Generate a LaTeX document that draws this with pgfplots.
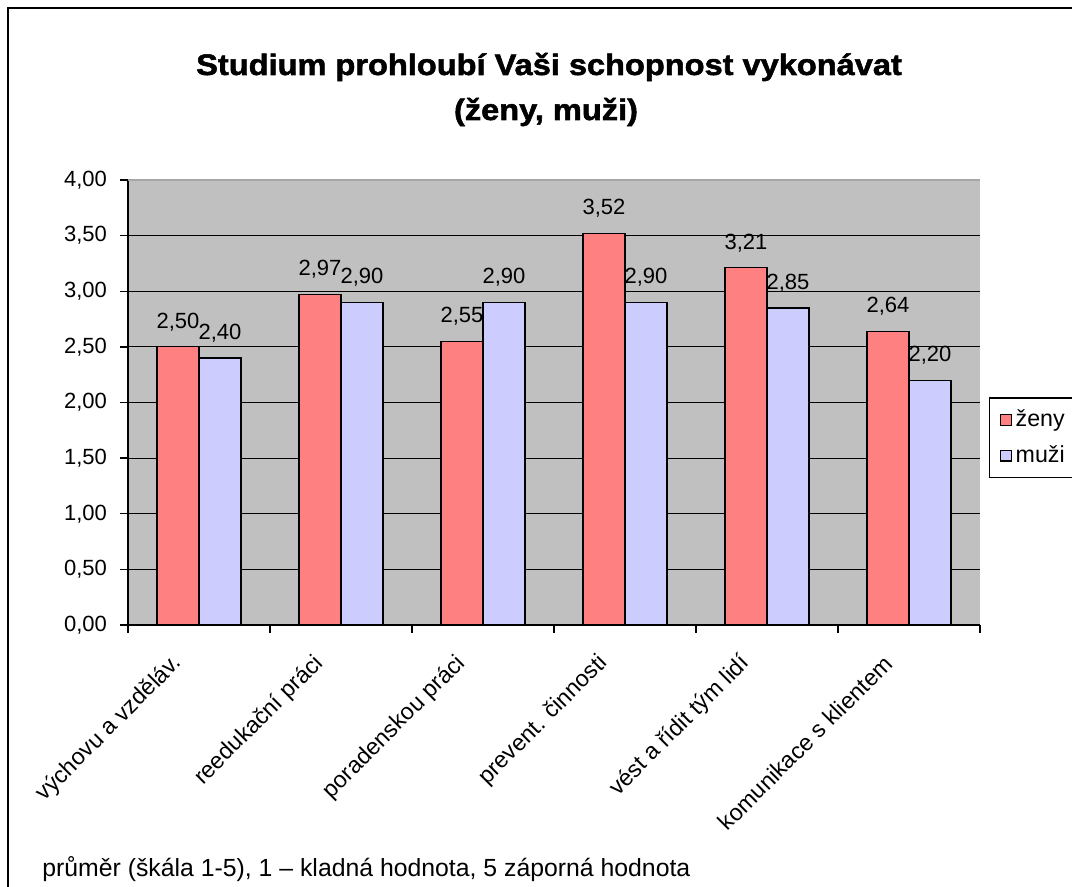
\documentclass[border=0pt]{standalone}
\usepackage{fontspec}
\setmainfont{Liberation Sans}
\newfontfamily\titlefont{Liberation Sans Bold}[FakeBold=1.8, FakeStretch=1.1]
\usepackage{pgfplots}
\pgfplotsset{compat=1.18}
\definecolor{zeny}{HTML}{FF8080}
\definecolor{muzi}{HTML}{CCCCFF}
\definecolor{plotbg}{HTML}{C0C0C0}

% values: mean answer on a 1-5 scale
\pgfplotstableread{
x zeny muzi
0 2.50 2.40
1 2.97 2.90
2 2.55 2.90
3 3.52 2.90
4 3.21 2.85
5 2.64 2.20
}\scores

\pgfplotsset{
  ybar legend/.style={
    legend image code/.code={\draw[##1, line width=0.6pt, draw=black] (0pt,-2.7pt) rectangle (5.4pt,2.7pt);}},
}

\begin{document}
\begin{tikzpicture}
\useasboundingbox (0,0) rectangle (536pt,443.5pt);
\begin{scope}
\clip (0,0) rectangle (536pt,443.5pt);
\fill[white] (0,0) rectangle (536pt,443.5pt);
\draw[line width=1pt] (4pt,-10pt) rectangle (570pt,439.5pt);
\node[anchor=base, font=\titlefont\fontsize{14.8}{18}\selectfont] at (274.5pt,406pt) {Studium prohloubí Vaši schopnost vykonávat};
\node[anchor=base, font=\titlefont\fontsize{14.8}{18}\selectfont] at (273pt,383.5pt) {(ženy, muži)};
\node[anchor=base west, font=\fontsize{12.4}{14}\selectfont, inner sep=0pt] at (21pt,5pt) {průměr (škála 1-5), 1 -- kladná hodnota, 5 záporná hodnota};

\begin{axis}[
    at={(64pt,131pt)}, anchor=south west,
    scale only axis, width=426pt, height=222.5pt,
    ybar=0pt, bar width=0.296,
    xmin=-0.5, xmax=5.5, ymin=0, ymax=4,
    axis x line*=bottom, axis y line*=left,
    axis line style={line width=0.7pt},
    axis background/.style={fill=plotbg},
    ytick={0,0.5,...,3.5},
    extra y ticks={4},
    extra y tick style={grid style={gray!70, line width=0.6pt}},
    ymajorgrids, grid style={black, line width=0.6pt},
    tick align=outside, tick style={black, line width=0.7pt},
    major tick length=4pt,
    /pgf/number format/assume math mode=true,
    yticklabel style={font=\fontsize{11}{13}\selectfont, xshift=-3pt,
      /pgf/number format/.cd, fixed, fixed zerofill, precision=2, use comma},
    xtick={-0.5,0.5,...,5.5}, xticklabels={},
    extra x ticks={0,1,2,3,4,5},
    extra x tick labels={výchovu a vzděláv., reedukační práci, poradenskou práci, prevent. činnosti, vést a řídit tým lidí, komunikace s klientem},
    extra x tick style={major tick length=0pt, grid=none},
    xticklabel style={font=\fontsize{11.6}{13}\selectfont, xshift=-8pt, yshift=-15pt, rotate=45, anchor=east},
    nodes near coords={\pgfmathprintnumber[fixed, fixed zerofill, precision=2, use comma]{\pgfplotspointmeta}},
    every node near coord/.append style={font=\fontsize{11}{13}\selectfont, anchor=base, yshift=9.3pt, inner sep=0pt},
    legend style={at={(1.0106,0.512)}, anchor=north west, draw=black, line width=0.7pt,
      fill=white, font=\fontsize{11.6}{13}\selectfont, row sep=4pt, inner xsep=5pt, inner ysep=4pt,
      legend cell align=left},
]
\addplot[fill=zeny, draw=black, line width=0.6pt] table[x=x, y=zeny] {\scores};
\addplot[fill=muzi, draw=black, line width=0.6pt] table[x=x, y=muzi] {\scores};
\legend{ženy\hspace*{8pt}, muži\hspace*{8pt}}
\end{axis}
\end{scope}
\end{tikzpicture}
\end{document}
